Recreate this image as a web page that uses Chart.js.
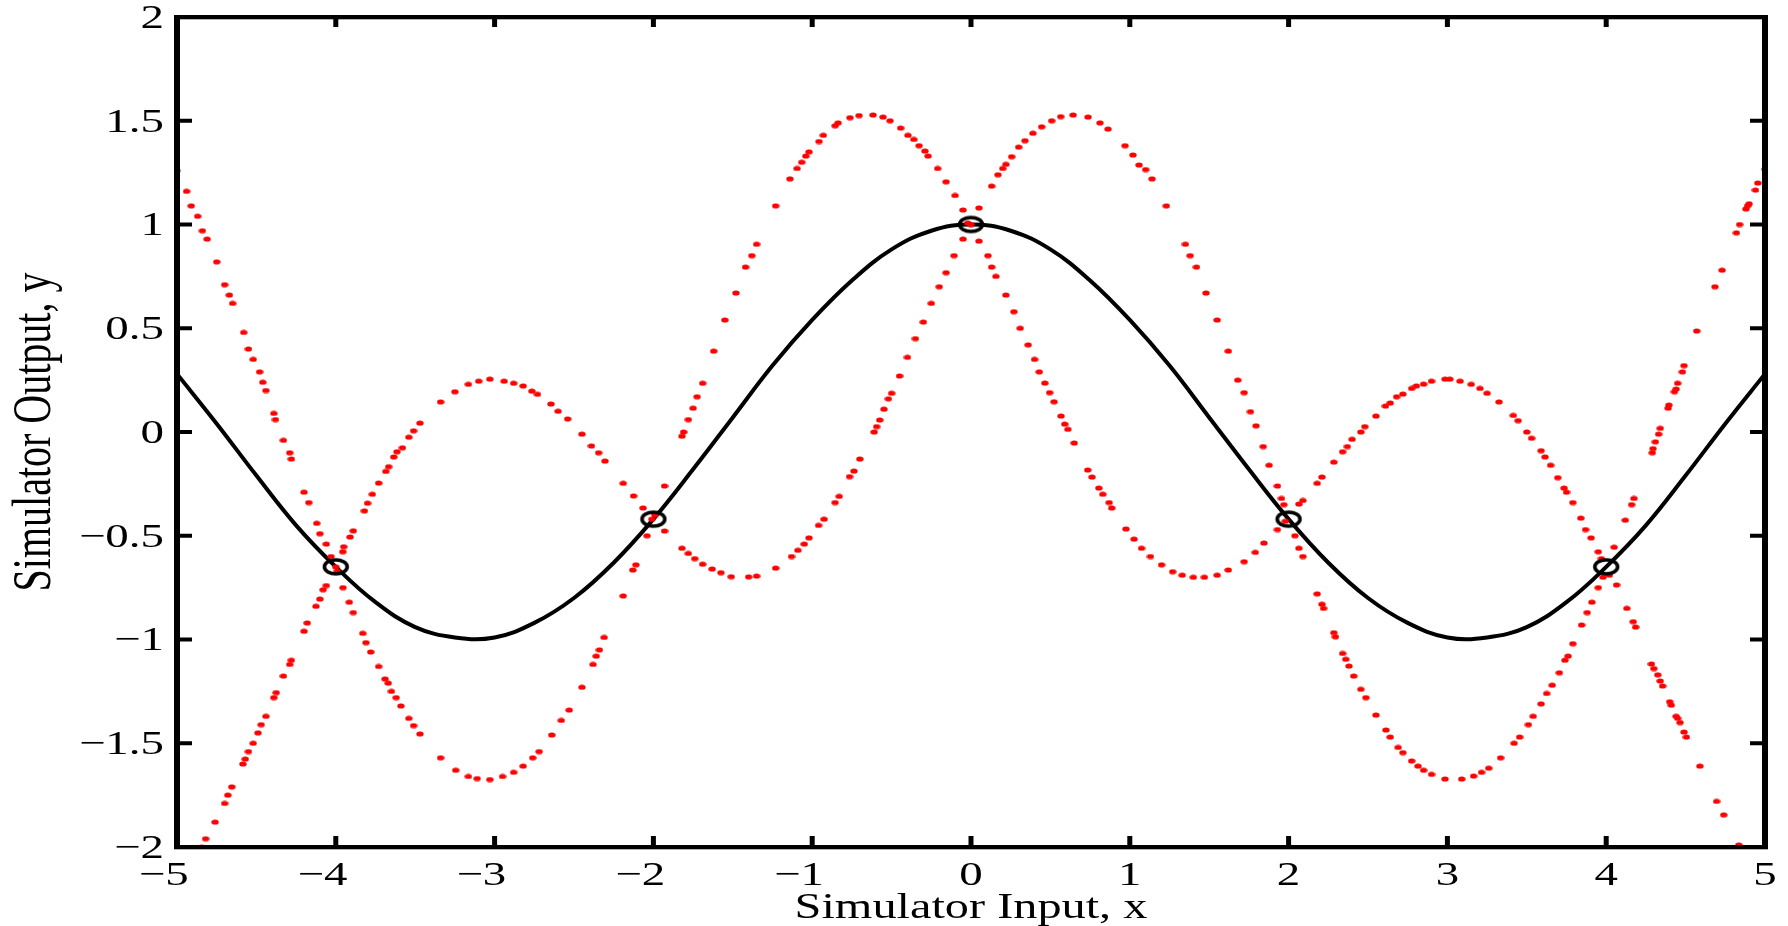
<!DOCTYPE html>
<html>
<head>
<meta charset="utf-8">
<style>
  html, body { margin: 0; padding: 0; background: #fff; }
  #chart { display: block; }
</style>
</head>
<body>
<canvas id="chart" width="1788" height="926"></canvas>
<script src="https://cdn.jsdelivr.net/npm/chart.js@4.4.1/dist/chart.umd.min.js"></script>
<script>
// black curve (true simulator)
const lineX = [-5, -4.75, -4.5, -4.25, -4, -3.75, -3.5, -3.25, -3, -2.75, -2.5, -2.25, -2, -1.75, -1.5, -1.25, -1, -0.75, -0.5, -0.25,
  0, 0.25, 0.5, 0.75, 1, 1.25, 1.5, 1.75, 2, 2.25, 2.5, 2.75, 3, 3.25, 3.5, 3.75, 4, 4.25, 4.5, 4.75, 5];
const lineY = [0.28, 0.04, -0.21, -0.45, -0.65, -0.82, -0.94, -0.99, -0.99, -0.92, -0.80, -0.63, -0.42, -0.18, 0.07, 0.32, 0.54, 0.73, 0.88, 0.97,
  1.00, 0.97, 0.88, 0.73, 0.54, 0.32, 0.07, -0.18, -0.42, -0.63, -0.80, -0.92, -0.99, -0.99, -0.94, -0.82, -0.65, -0.45, -0.21, 0.04, 0.28];

// training runs (circles)
const trainX = [-4, -2, 0, 2, 4];
const trainY = [-0.65, -0.42, 1.00, -0.42, -0.65];

// red sample curve A [x, y]
const redCurveA = [
  [-5.00, 1.26], [-4.94, 1.16], [-4.91, 1.09], [-4.87, 1.04], [-4.84, 0.97], [-4.81, 0.93], [-4.75, 0.82], [-4.70, 0.71],
  [-4.67, 0.66], [-4.65, 0.62], [-4.58, 0.48], [-4.55, 0.40], [-4.52, 0.35], [-4.48, 0.29], [-4.46, 0.24], [-4.44, 0.20],
  [-4.39, 0.09], [-4.38, 0.06], [-4.33, -0.04], [-4.29, -0.10], [-4.28, -0.13], [-4.20, -0.29], [-4.17, -0.34], [-4.12, -0.44],
  [-4.10, -0.49], [-4.06, -0.54], [-4.03, -0.60], [-3.99, -0.67], [-3.955, -0.75], [-3.915, -0.82], [-3.89, -0.87], [-3.83, -0.97],
  [-3.81, -1.015], [-3.78, -1.06], [-3.73, -1.13], [-3.69, -1.19], [-3.67, -1.21], [-3.65, -1.25], [-3.62, -1.28], [-3.59, -1.32],
  [-3.54, -1.38], [-3.51, -1.415], [-3.47, -1.455], [-3.34, -1.57], [-3.245, -1.63], [-3.165, -1.66], [-3.11, -1.67], [-3.03, -1.675],
  [-2.95, -1.66], [-2.88, -1.64], [-2.82, -1.61], [-2.76, -1.57], [-2.72, -1.54], [-2.64, -1.46], [-2.58, -1.39], [-2.53, -1.34],
  [-2.45, -1.23], [-2.38, -1.12], [-2.36, -1.08], [-2.34, -1.05], [-2.31, -0.99], [-2.19, -0.79], [-2.13, -0.665], [-2.11, -0.64],
  [-2.04, -0.50], [-1.99, -0.40], [-1.93, -0.26], [-1.82, -0.02], [-1.81, 0.00], [-1.78, 0.06], [-1.75, 0.115], [-1.725, 0.17],
  [-1.69, 0.235], [-1.62, 0.39], [-1.55, 0.54], [-1.48, 0.67], [-1.42, 0.795], [-1.38, 0.85], [-1.35, 0.905], [-1.23, 1.09],
  [-1.14, 1.22], [-1.095, 1.27], [-1.066, 1.30], [-1.04, 1.33], [-1.02, 1.35], [-0.957, 1.40], [-0.93, 1.43], [-0.856, 1.476],
  [-0.837, 1.49], [-0.762, 1.515], [-0.705, 1.525], [-0.617, 1.528], [-0.554, 1.518], [-0.51, 1.50], [-0.443, 1.465], [-0.397, 1.43],
  [-0.36, 1.41], [-0.327, 1.38], [-0.29, 1.354], [-0.27, 1.33], [-0.21, 1.27], [-0.157, 1.206], [-0.10, 1.14], [-0.05, 1.07],
  [-0.02, 1.007], [0.05, 0.92], [0.107, 0.85], [0.13, 0.795], [0.157, 0.75], [0.22, 0.66], [0.27, 0.58], [0.31, 0.50],
  [0.36, 0.42], [0.40, 0.35], [0.43, 0.29], [0.465, 0.236], [0.495, 0.19], [0.523, 0.146], [0.567, 0.077], [0.59, 0.038],
  [0.61, 0.013], [0.65, -0.053], [0.735, -0.183], [0.762, -0.217], [0.805, -0.27], [0.83, -0.30], [0.87, -0.34], [0.886, -0.366],
  [0.976, -0.467], [1.027, -0.516], [1.074, -0.56], [1.13, -0.60], [1.20, -0.64], [1.27, -0.673], [1.33, -0.69], [1.40, -0.70],
  [1.47, -0.70], [1.55, -0.69], [1.62, -0.665], [1.72, -0.625], [1.79, -0.58], [1.845, -0.535], [1.93, -0.47], [1.98, -0.43],
  [2.065, -0.347], [2.09, -0.33], [2.18, -0.247], [2.21, -0.217], [2.285, -0.145], [2.34, -0.095], [2.37, -0.07], [2.40, -0.035],
  [2.455, 0.00], [2.48, 0.026], [2.55, 0.077], [2.61, 0.125], [2.64, 0.14], [2.68, 0.17], [2.72, 0.183], [2.775, 0.21],
  [2.805, 0.222], [2.85, 0.231], [2.90, 0.245], [2.985, 0.255], [3.015, 0.255], [3.08, 0.245], [3.15, 0.23], [3.205, 0.21],
  [3.25, 0.187], [3.325, 0.145], [3.415, 0.08], [3.445, 0.055], [3.50, 0.00], [3.53, -0.03], [3.59, -0.09], [3.615, -0.12],
  [3.65, -0.16], [3.695, -0.22], [3.735, -0.27], [3.75, -0.29], [3.79, -0.34], [3.84, -0.415], [3.87, -0.47], [3.905, -0.51],
  [3.95, -0.577], [3.97, -0.61], [4.02, -0.69], [4.065, -0.737], [4.13, -0.85], [4.17, -0.914], [4.185, -0.94], [4.285, -1.118],
  [4.30, -1.14], [4.325, -1.17], [4.34, -1.20], [4.355, -1.224], [4.40, -1.30], [4.41, -1.316], [4.44, -1.37], [4.45, -1.38],
  [4.465, -1.40], [4.49, -1.446], [4.505, -1.47], [4.59, -1.61], [4.695, -1.78], [4.74, -1.845], [4.835, -1.99]
];

// red sample curve B [x, y]
const redCurveB = [
  [-4.845, -2.00], [-4.82, -1.96], [-4.76, -1.88], [-4.70, -1.79], [-4.68, -1.75], [-4.655, -1.71], [-4.585, -1.60], [-4.57, -1.576],
  [-4.55, -1.54], [-4.52, -1.50], [-4.49, -1.45], [-4.47, -1.41], [-4.44, -1.37], [-4.39, -1.28], [-4.375, -1.256], [-4.33, -1.176],
  [-4.29, -1.12], [-4.28, -1.10], [-4.20, -0.96], [-4.18, -0.92], [-4.125, -0.84], [-4.10, -0.805], [-4.08, -0.76], [-4.06, -0.74],
  [-4.00, -0.65], [-3.956, -0.577], [-3.95, -0.553], [-3.91, -0.506], [-3.89, -0.476], [-3.82, -0.38], [-3.80, -0.343], [-3.77, -0.30],
  [-3.73, -0.246], [-3.685, -0.19], [-3.667, -0.167], [-3.635, -0.12], [-3.615, -0.095], [-3.58, -0.076], [-3.54, -0.025], [-3.51, 0.006],
  [-3.47, 0.043], [-3.34, 0.145], [-3.25, 0.194], [-3.165, 0.23], [-3.10, 0.245], [-3.03, 0.255], [-2.94, 0.245], [-2.88, 0.235],
  [-2.82, 0.222], [-2.765, 0.197], [-2.73, 0.182], [-2.645, 0.135], [-2.60, 0.10], [-2.54, 0.063], [-2.45, -0.01], [-2.39, -0.067],
  [-2.345, -0.10], [-2.305, -0.14], [-2.19, -0.247], [-2.125, -0.308], [-2.065, -0.366], [-2.01, -0.42], [-1.93, -0.477], [-1.82, -0.56],
  [-1.78, -0.585], [-1.74, -0.61], [-1.69, -0.637], [-1.63, -0.66], [-1.575, -0.678], [-1.51, -0.697], [-1.40, -0.698], [-1.35, -0.694],
  [-1.23, -0.656], [-1.13, -0.60], [-1.09, -0.57], [-1.05, -0.54], [-1.02, -0.51], [-0.96, -0.45], [-0.925, -0.42], [-0.856, -0.34],
  [-0.83, -0.31], [-0.765, -0.215], [-0.737, -0.188], [-0.70, -0.13], [-0.61, 0.00], [-0.594, 0.026], [-0.575, 0.058], [-0.548, 0.11],
  [-0.52, 0.16], [-0.50, 0.187], [-0.45, 0.27], [-0.40, 0.36], [-0.35, 0.45], [-0.30, 0.53], [-0.25, 0.62], [-0.20, 0.70],
  [-0.157, 0.768], [-0.107, 0.85], [-0.05, 0.93], [0.00, 1.00], [0.05, 1.08], [0.13, 1.185], [0.17, 1.24], [0.20, 1.27],
  [0.22, 1.29], [0.256, 1.327], [0.30, 1.373], [0.34, 1.404], [0.39, 1.44], [0.445, 1.471], [0.508, 1.50], [0.565, 1.52],
  [0.643, 1.528], [0.737, 1.518], [0.812, 1.49], [0.863, 1.46], [0.97, 1.38], [1.02, 1.335], [1.058, 1.287], [1.10, 1.265],
  [1.14, 1.22], [1.23, 1.09], [1.35, 0.905], [1.38, 0.85], [1.42, 0.795], [1.48, 0.67], [1.55, 0.54], [1.62, 0.39],
  [1.68, 0.25], [1.72, 0.19], [1.76, 0.098], [1.795, 0.03], [1.84, -0.07], [1.877, -0.16], [1.93, -0.26], [1.955, -0.32],
  [1.97, -0.35], [2.04, -0.50], [2.065, -0.56], [2.09, -0.60], [2.18, -0.78], [2.21, -0.83], [2.22, -0.85], [2.285, -0.967],
  [2.295, -0.987], [2.34, -1.067], [2.36, -1.095], [2.38, -1.128], [2.41, -1.176], [2.455, -1.24], [2.487, -1.28], [2.55, -1.364],
  [2.613, -1.436], [2.64, -1.47], [2.69, -1.52], [2.72, -1.545], [2.775, -1.585], [2.815, -1.61], [2.85, -1.63], [2.90, -1.65],
  [2.985, -1.672], [3.09, -1.672], [3.165, -1.658], [3.215, -1.64], [3.26, -1.62], [3.335, -1.57], [3.42, -1.50], [3.455, -1.47],
  [3.51, -1.41], [3.54, -1.37], [3.59, -1.31], [3.625, -1.26], [3.66, -1.22], [3.705, -1.16], [3.74, -1.10], [3.76, -1.08],
  [3.79, -1.02], [3.845, -0.93], [3.88, -0.87], [3.91, -0.82], [3.95, -0.75], [3.98, -0.70], [4.05, -0.555], [4.12, -0.425],
  [4.16, -0.35], [4.175, -0.32], [4.29, -0.10], [4.295, -0.08], [4.31, -0.047], [4.33, -0.01], [4.34, 0.018], [4.39, 0.115],
  [4.395, 0.13], [4.43, 0.194], [4.44, 0.207], [4.45, 0.235], [4.48, 0.29], [4.49, 0.32], [4.57, 0.487], [4.685, 0.70],
  [4.73, 0.78], [4.82, 0.96], [4.84, 1.00], [4.88, 1.075], [4.89, 1.09], [4.90, 1.10], [4.94, 1.166], [4.955, 1.20], [5.00, 1.267]
];

const xTicks = [-5, -4, -3, -2, -1, 0, 1, 2, 3, 4, 5];
const yTicks = [-2, -1.5, -1, -0.5, 0, 0.5, 1, 1.5, 2];
const xTitle = 'Simulator Input, x';
const yTitle = 'Simulator Output, y';

const FONT = "'Liberation Serif', 'Times New Roman', serif";
const STRETCH = 1.38;   // the figure is stretched sideways

function ellipseMarker(w, h, rx, ry, fill, stroke, lw) {
  const c = document.createElement('canvas');
  c.width = w; c.height = h;
  const g = c.getContext('2d');
  g.beginPath();
  g.ellipse(w / 2, h / 2, rx, ry, 0, 0, Math.PI * 2);
  if (fill) { g.fillStyle = fill; g.fill(); }
  if (stroke) { g.strokeStyle = stroke; g.lineWidth = lw; g.stroke(); }
  return c;
}

const redDot = ellipseMarker(8, 6, 3.7, 2.6, '#ff0000');
const ring = ellipseMarker(30, 22, 11.4, 7.0, null, '#000', 3.6);

const fmt = (v) => (v < 0 ? '\u2212' + Math.abs(v) : String(v));

function stretchedText(ctx, text, x, y, align) {
  ctx.save();
  ctx.translate(x, y);
  ctx.scale(STRETCH, 1);
  ctx.textAlign = align;
  ctx.fillText(text, 0, 0);
  ctx.restore();
}

const matlabAxes = {
  id: 'matlabAxes',
  afterDraw(chart) {
    const ctx = chart.ctx;
    const a = chart.chartArea;
    const sx = chart.scales.x;
    const sy = chart.scales.y;
    ctx.save();
    ctx.fillStyle = '#000';

    // box
    ctx.fillRect(a.left - 3, a.top - 2, 6, a.bottom - a.top + 4);
    ctx.fillRect(a.right - 3, a.top - 2, 6, a.bottom - a.top + 4);
    ctx.fillRect(a.left - 3, a.top - 2, a.right - a.left + 6, 4.3);
    ctx.fillRect(a.left - 3, a.bottom - 2, a.right - a.left + 6, 4.3);

    // inward ticks
    xTicks.forEach((v) => {
      const px = sx.getPixelForValue(v);
      ctx.fillRect(px - 2.5, a.bottom - 11, 5, 11);
      ctx.fillRect(px - 2.5, a.top, 5, 10);
    });
    yTicks.forEach((v) => {
      const py = sy.getPixelForValue(v);
      ctx.fillRect(a.left, py - 2, 15, 4);
      ctx.fillRect(a.right - 15, py - 2, 15, 4);
    });

    // tick labels
    ctx.font = '34px ' + FONT;
    ctx.textBaseline = 'alphabetic';
    xTicks.forEach((v) => {
      const px = sx.getPixelForValue(v);
      const half = ctx.measureText(String(Math.abs(v))).width * STRETCH / 2;
      stretchedText(ctx, fmt(v), px + half, a.bottom + 38, 'right');
    });
    ctx.textBaseline = 'middle';
    yTicks.forEach((v) => {
      const py = sy.getPixelForValue(v);
      stretchedText(ctx, fmt(v), a.left - 13, py + 2, 'right');
    });

    // axis titles
    ctx.font = '35px ' + FONT;
    ctx.textBaseline = 'alphabetic';
    stretchedText(ctx, xTitle, (a.left + a.right) / 2, a.bottom + 71, 'center');

    ctx.save();
    ctx.translate(50, (a.top + a.bottom) / 2);
    ctx.rotate(-Math.PI / 2);
    ctx.scale(1, STRETCH);
    ctx.font = '40px ' + FONT;
    ctx.textAlign = 'center';
    ctx.fillText(yTitle, 0, 0);
    ctx.restore();

    ctx.restore();
  }
};

const toPts = (pairs) => pairs.map((p) => ({ x: p[0], y: p[1] }));

new Chart(document.getElementById('chart'), {
  type: 'scatter',
  data: {
    datasets: [
      { label: 'runs', data: trainX.map((x, i) => ({ x: x, y: trainY[i] })), pointStyle: ring, pointRadius: 6, order: 0 },
      { label: 'sample A', data: toPts(redCurveA), pointStyle: redDot, pointRadius: 3, order: 1 },
      { label: 'sample B', data: toPts(redCurveB), pointStyle: redDot, pointRadius: 3, order: 1 },
      { label: 'simulator', data: lineX.map((x, i) => ({ x: x, y: lineY[i] })), showLine: true, borderColor: '#000', borderWidth: 4,
        pointRadius: 0, tension: 0.4, order: 2 }
    ]
  },
  options: {
    responsive: false,
    animation: false,
    layout: { padding: { left: 177, top: 17, right: 23, bottom: 79 } },
    plugins: { legend: { display: false }, tooltip: { enabled: false } },
    scales: {
      x: { type: 'linear', display: false, min: -5, max: 5 },
      y: { type: 'linear', display: false, min: -2, max: 2 }
    }
  },
  plugins: [matlabAxes]
});
</script>
</body>
</html>
